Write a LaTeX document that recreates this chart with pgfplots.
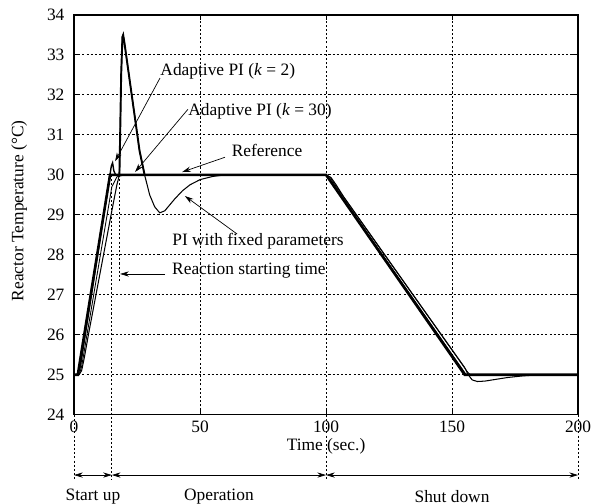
\documentclass[border=0pt]{standalone}
\usepackage{fontspec}
\setmainfont{Liberation Serif}
\usepackage{pgfplots}
\pgfplotsset{compat=1.18}
\usetikzlibrary{arrows.meta}

\begin{document}
\begin{tikzpicture}
\begin{axis}[
  width=290pt, height=230pt, scale only axis,
  xmin=0, xmax=200, ymin=24, ymax=34,
  xtick={0,50,100,150,200},
  ytick={24,25,...,34},
  grid=major,
  grid style={black, line width=0.5pt, dash pattern=on 1.2pt off 1.2pt},
  axis line style={line width=0.9pt},
  tick align=inside, major tick length=3pt,
  tick style={black, line width=0.5pt},
  ticklabel style={font=\normalsize},
  xticklabel style={inner sep=1pt, yshift=-2.6pt},
  yticklabel style={xshift=-2pt},
  /pgf/number format/assume math mode=true,
  clip=false,
]
% reference trajectory
\addplot[black, line width=1.5pt] coordinates {
  (0,25)(1.5,25)(14.3,30)(100,30)(155,25)(200,25)};
% adaptive PI, k = 2
\addplot[black, line width=0.8pt] coordinates {
  (0,25)(1.5,25)(2.5,25.2)(14,29.9)(14.8,30.22)(15.3,30.3)(15.8,30.1)
  (16.5,30)(100,30)(100.5,29.97)(155.5,25)(200,25)};
% adaptive PI, k = 30
\addplot[black, line width=0.5pt] coordinates {
  (0,25)(2,25)(3,25.2)(15,29.7)(17,29.95)(20,30)(100,30)(101.5,29.95)
  (103,29.8)(156,25.08)(157,25.01)(158,25)(200,25)};
% PI with fixed parameters
\addplot[black, line width=0.6pt] coordinates {
  (0,25)(2,25)(3,25.1)(4,25.4)(6,26.1)(9,27.1)(12,28.1)(15,29.1)
  (17,29.75)(18,30)(18.3,31)(18.7,32.5)(19.2,33.45)(19.5,33.5)(20,33.3)
  (22,32.4)(24,31.5)(26,30.6)(28,30)(29,29.75)(30,29.5)(32,29.2)
  (34,29.05)(36,29.1)(38,29.25)(40,29.4)(43,29.6)(46,29.75)(50,29.88)
  (55,29.96)(60,30)(100,30)(102,29.93)(104,29.75)(107,29.45)(155,25.18)
  (156,25.05)(157,24.95)(158,24.87)(160,24.83)(163,24.84)(167,24.88)
  (172,24.93)(178,24.97)(185,25)(200,25)};
% the overshoot spike reads heavier in the original
\addplot[black, line width=1.1pt] coordinates {
  (18,30)(18.3,31)(18.7,32.5)(19.2,33.45)(19.5,33.5)(20,33.3)
  (22,32.4)(24,31.5)(26,30.6)(28,30)};

% reaction start markers and phase boundaries
\draw[black, line width=0.5pt, dash pattern=on 1.2pt off 1.2pt]
  (axis cs:18,30) -- (axis cs:18,27.3);
\draw[black, line width=0.5pt, dash pattern=on 1.2pt off 1.2pt]
  (axis cs:15,30) -- (axis cs:15,22.36);
\draw[black, line width=0.5pt, dash pattern=on 1.2pt off 1.2pt]
  (axis cs:0,24) -- (axis cs:0,22.36);
\draw[black, line width=0.5pt, dash pattern=on 1.2pt off 1.2pt]
  (axis cs:100,24) -- (axis cs:100,22.36);
\draw[black, line width=0.5pt, dash pattern=on 1.2pt off 1.2pt]
  (axis cs:200,24) -- (axis cs:200,22.36);

% annotations
\tikzset{ann/.style={-{Stealth[length=5pt,width=3pt]}, line width=0.4pt}}
\node at (axis cs:61,32.59) {Adaptive PI (\textit{k} = 2)};
\draw[ann] (axis cs:34.1,32.42) -- (axis cs:16.3,30.34);
\node at (axis cs:73.8,31.59) {Adaptive PI (\textit{k} = 30)};
\draw[ann] (axis cs:45.2,31.64) -- (axis cs:24.2,30.07);
\node at (axis cs:76.6,30.62) {Reference};
\draw[ann] (axis cs:59.9,30.44) -- (axis cs:42.9,30.07);
\node at (axis cs:73,28.34) {PI with fixed parameters};
\draw[ann] (axis cs:64.7,28.52) -- (axis cs:44,29.47);
\node at (axis cs:69.4,27.61) {Reaction starting time};
\draw[ann] (axis cs:36.1,27.52) -- (axis cs:18.3,27.52);

% axis labels
\node[inner sep=1pt] at (axis cs:100,23.22) {Time (sec.)};
\node[rotate=90, inner sep=0pt] at ([xshift=-31.6pt]rel axis cs:0,0.51) {Reactor Temperature (°C)};

% phases
\tikzset{ph/.style={{Stealth[length=5pt,width=3pt]}-{Stealth[length=5pt,width=3pt]}, line width=0.4pt}}
\draw[ph] (axis cs:0,22.49) -- (axis cs:15,22.49);
\draw[ph] (axis cs:15,22.49) -- (axis cs:100,22.49);
\draw[ph] (axis cs:100,22.49) -- (axis cs:200,22.49);
\node[inner sep=0pt] at (axis cs:7.5,21.96) {Start up};
\node[inner sep=0pt] at (axis cs:57.5,21.96) {Operation};
\node[inner sep=0pt] at (axis cs:150,21.96) {Shut down};

\path ([xshift=-42.6pt,yshift=-51.2pt]rel axis cs:0,0) rectangle
      ([xshift=8.6pt,yshift=8.6pt]rel axis cs:1,1);
\end{axis}
\end{tikzpicture}
\end{document}
